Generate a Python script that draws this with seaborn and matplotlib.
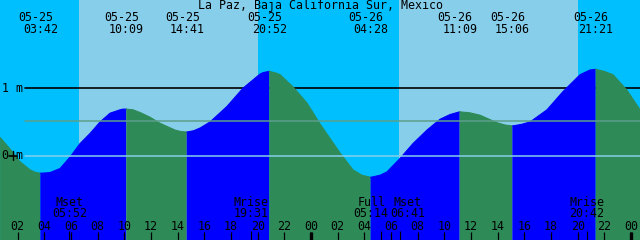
import numpy as np
import pandas as pd
import matplotlib
matplotlib.use("Agg")
import matplotlib.pyplot as plt
import seaborn as sns
from matplotlib.transforms import blended_transform_factory

title = "La Paz, Baja California Sur, Mexico"

# hours since 05-25 00:00, tide height in metres
hours = [0.68, 1.43, 2.18, 2.93, 3.30, 3.70, 4.10, 4.43, 5.18, 5.93, 6.68, 7.43, 8.18, 8.93,
         9.68, 9.90, 10.15, 10.65, 11.18, 11.93, 12.68, 13.80, 14.20, 14.68, 15.20, 15.68,
         16.43, 17.70, 18.90, 20.18, 20.40, 20.87, 21.45, 21.68, 22.65, 23.70, 24.68,
         26.18, 27.15, 27.83, 28.47, 29.18, 29.70, 30.68, 31.65, 32.70, 33.68, 34.43,
         35.15, 35.93, 36.68, 37.93, 38.55, 39.10, 39.80, 40.43, 41.70, 42.90, 44.18,
         44.93, 45.35, 45.98, 46.65, 47.70, 48.68]
heights = [0.27, 0.10, -0.09, -0.21, -0.245, -0.26, -0.255, -0.25, -0.19, -0.02, 0.18, 0.33, 0.50, 0.63,
           0.68, 0.69, 0.69, 0.68, 0.64, 0.57, 0.48, 0.38, 0.36, 0.35, 0.37, 0.41,
           0.50, 0.73, 1.00, 1.21, 1.23, 1.25, 1.22, 1.20, 1.02, 0.78, 0.47,
           0.04, -0.21, -0.29, -0.32, -0.29, -0.24, -0.04, 0.18, 0.38, 0.54, 0.61,
           0.65, 0.635, 0.60, 0.49, 0.455, 0.44, 0.465, 0.50, 0.68, 0.95, 1.20,
           1.27, 1.28, 1.25, 1.20, 0.97, 0.68]

extreme_hours = [3.70, 10.15, 14.68, 20.87, 28.47, 35.15, 39.10, 45.35]
extreme_dates = ["05-25", "05-25", "05-25", "05-25", "05-26", "05-26", "05-26", "05-26"]
extreme_times = ["03:42", "10:09", "14:41", "20:52", "04:28", "11:09", "15:06", "21:21"]

sunrise_hours = [6.60, 30.60]
sunset_hours = [20.05, 44.05]

moon_hours = [5.87, 19.52, 29.23, 30.68, 44.70]
moon_names = ["Mset", "Mrise", "Full", "Mset", "Mrise"]
moon_times = ["05:52", "19:31", "05:14", "06:41", "20:42"]
moon_nudge_px = [0, 0, -9.5, 7.5, 0]

tick_hours = [2, 4, 6, 8, 10, 12, 14, 16, 18, 20, 22, 24,
              26, 28, 30, 32, 34, 36, 38, 40, 42, 44, 46, 48]
tick_labels = ["02", "04", "06", "08", "10", "12", "14", "16", "18", "20", "22", "00",
               "02", "04", "06", "08", "10", "12", "14", "16", "18", "20", "22", "00"]
midnight_hours = [24, 48]

mean_level = 0.52

# ---- style
sns.set_theme(style="white")
plt.rcParams['font.family'] = ['DejaVu Sans Mono', 'DejaVu Sans']
FS = 8.4
NIGHT = "#00bfff"
DAY = "#87ceeb"
FALL = "#2e8b57"
RISE = "#0000ff"

W, H = 640, 240
fig = plt.figure(figsize=(6.4, 2.4), dpi=100)
ax = fig.add_axes([0, 0, 1, 1])
x0 = 0.675
ax.set_xlim(x0, x0 + 48)
ax.set_ylim(-(240 - 155.7) / 67.5, 155.7 / 67.5)
ax.set_axis_off()
bt = blended_transform_factory(ax.transData, ax.transAxes)

def yf(px):
    return 1 - px / H

# background night/day
ax.axvspan(x0, x0 + 48, color=NIGHT, zorder=0, lw=0)
for sr, ss in zip(sunrise_hours, sunset_hours):
    ax.axvspan(sr, ss, color=DAY, zorder=0.5, lw=0)

# 1 m line (under the water)
ax.axhline(1.0, xmin=25 / W, xmax=1, color="black", lw=1.2, zorder=1)

# water fill, split at extremes
df = pd.DataFrame({"hour": hours, "height": heights})
bounds = [hours[0]] + extreme_hours + [hours[-1]]
segs = []
for i in range(len(bounds) - 1):
    a, b = bounds[i], bounds[i + 1]
    sub = df[(df.hour >= a - 1e-9) & (df.hour <= b + 1e-9)].copy()
    color = FALL if i % 2 == 0 else RISE
    ax.fill_between(sub.hour, sub.height, -5, color=color, lw=0, zorder=2)
    sub["seg"] = i
    segs.append(sub)
segdf = pd.concat(segs)
pal = {i: (FALL if i % 2 == 0 else RISE) for i in segdf.seg.unique()}
sns.lineplot(data=segdf, x="hour", y="height", hue="seg", palette=pal,
             legend=False, lw=0.8, ax=ax, zorder=2.5, sort=False, estimator=None)

# mean and zero lines over the water
ax.axhline(mean_level, xmin=25 / W, xmax=1, color="#5c9e8a", lw=1.1, zorder=3)
ax.axhline(0.0, xmin=25 / W, xmax=1, color="#87ceeb", lw=1.1, zorder=3)

# y labels
ta = blended_transform_factory(ax.transAxes, ax.transData)
ax.text(2 / W, 1.0, "1 m", transform=ta, ha="left", va="center", fontsize=FS, color="black", zorder=4)
ax.text(2 / W, 0.0, "0 m", transform=ta, ha="left", va="center", fontsize=FS, color="black", zorder=4)
ax.plot([9 / W, 17 / W], [0, 0], color="black", lw=1.2, transform=ta, zorder=4)
ax.plot([13 / W, 13 / W], [-4.5 / 67.5, 4.5 / 67.5], color="black", lw=1.0, transform=ta, zorder=4)

# title
fig.text(0.5, yf(6), title, ha="center", va="center", fontsize=FS, color="black")

# extreme labels on top
for h, d, t in zip(extreme_hours, extreme_dates, extreme_times):
    ax.annotate(d, (h, yf(17.5)), xycoords=bt, xytext=(-3.2, 0), textcoords="offset points",
                ha="center", va="center", fontsize=FS, color="black", zorder=5)
    ax.annotate(t, (h, yf(29.5)), xycoords=bt, ha="center", va="center",
                fontsize=FS, color="black", zorder=5)

# moon events at bottom
for h, n, t, dx in zip(moon_hours, moon_names, moon_times, moon_nudge_px):
    ax.annotate(n, (h, yf(202)), xycoords=bt, xytext=(dx * 0.72, 0), textcoords="offset points",
                ha="center", va="center", fontsize=FS, color="black", zorder=5)
    ax.annotate(t, (h, yf(213.5)), xycoords=bt, xytext=(dx * 0.72, 0), textcoords="offset points",
                ha="center", va="center", fontsize=FS, color="black", zorder=5)
ax.vlines(moon_hours, 0, 9 / H, transform=bt, color="black", lw=0.8, zorder=5)

# hour ticks and labels
ax.vlines(tick_hours, 0, 8.5 / H, transform=bt, color="black", lw=0.9, zorder=5)
ax.vlines(midnight_hours, 0, 8.5 / H, transform=bt, color="black", lw=2.4, zorder=5)
for h, lab in zip(tick_hours, tick_labels):
    ax.text(h, yf(226), lab, transform=bt, ha="center", va="center",
            fontsize=FS, color="black", zorder=5)

fig.savefig("out.png", dpi=100)
